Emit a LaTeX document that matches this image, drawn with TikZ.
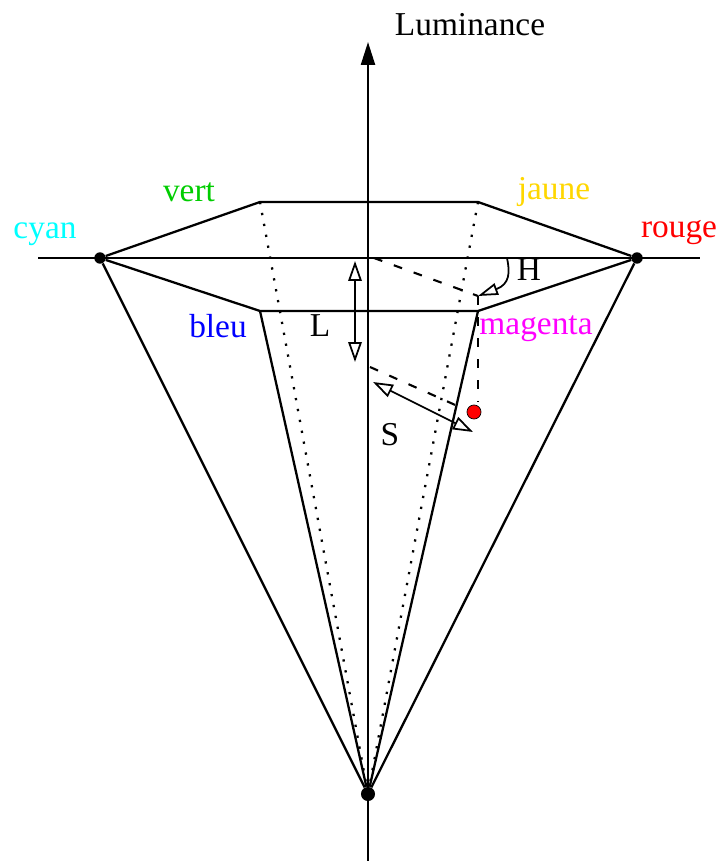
\documentclass[tikz,border=0pt]{standalone}
\usepackage{fontspec}
\setmainfont{Liberation Serif}
\usetikzlibrary{arrows.meta}

\definecolor{vertc}{RGB}{0,205,0}
\definecolor{jaunec}{RGB}{255,215,0}
\definecolor{cyanc}{RGB}{0,255,255}
\definecolor{magentac}{RGB}{255,0,255}
\definecolor{rougec}{RGB}{255,0,0}
\definecolor{bleuc}{RGB}{0,0,255}

\begin{document}
\begin{tikzpicture}[
  x=0.02cm, y=-0.02cm,
  font=\fontsize{19}{22}\selectfont,
  edge/.style={line width=1.3pt, draw=black},
  rear/.style={line width=1.3pt, draw=black, dash pattern=on 1.3pt off 5pt},
  hid/.style={line width=1.2pt, draw=black, dash pattern=on 5pt off 7pt},
  dbl/.style={line width=1pt, draw=black,
              {Triangle[open,length=4mm,width=2.7mm]}-{Triangle[open,length=4mm,width=2.7mm]}},
  vtx/.style={circle, fill=black, inner sep=0pt, minimum size=6.5pt},
  lbl/.style={inner sep=0pt},
]
\useasboundingbox (0,0) rectangle (720,861);

% ---------- axes ----------
\coordinate (top) at (368,42);
\coordinate (bot) at (368,861);
\coordinate (west) at (38,258);
\coordinate (east) at (700,258);

% ---------- hexagon and apex ----------
\node[vtx] (cy) at (100,258) {};
\node[vtx] (ro) at (637,258) {};
\node[vtx, minimum size=8pt] (apex) at (368,794) {};
\coordinate (ve) at (260,202);
\coordinate (ja) at (478,202);
\coordinate (bl) at (260,311);
\coordinate (ma) at (478,311);

% ---------- construction points ----------
\coordinate (orig) at (374,258);
\coordinate (foot) at (478,296);
\coordinate (hstart) at (507,258);
\coordinate (below) at (478,402);
\coordinate (axisp) at (370,367);
\coordinate (rimp) at (462,408);
\coordinate (stop) at (373,382);
\coordinate (send) at (473,432);
\coordinate (ltop) at (355,261);
\coordinate (lbot) at (355,362);
\node[circle, fill=red, draw=black, line width=0.4pt, inner sep=0pt, minimum size=8pt] (pt) at (474,412) {};

% ===== axes =====
\draw[edge, -{Triangle[length=4.6mm,width=2.8mm]}] (bot) -- (top);
\draw[edge] (west) -- (east);

% ===== hexagon =====
\draw[edge] (cy) -- (ve) -- (ja) -- (ro) -- (ma) -- (bl) -- (cy);

% ===== cone =====
\draw[edge] (cy) -- (apex);
\draw[edge] (ro) -- (apex);
\draw[edge] (bl) -- (apex);
\draw[edge] (ma) -- (apex);
\draw[rear] (ve) -- (apex);
\draw[rear] (ja) -- (apex);

% ===== construction lines =====
\draw[hid] (orig) -- (foot);
\draw[hid] (foot) -- (below);
\draw[hid] (axisp) -- (rimp);
\draw[line width=1pt, -{Triangle[open,length=4mm,width=2.4mm]}] (hstart) .. controls (510,272) and (510,284) .. (foot);
\draw[dbl] (ltop) -- (lbot);
\draw[dbl] (stop) -- (send);

% ===== labels =====
\node[lbl] (lum) at (470,25) {Luminance};
\node[lbl, text=vertc] (vert) at (189,192) {vert};
\node[lbl, text=jaunec] (jaune) at (554,192) {jaune};
\node[lbl, text=cyanc] (cyan) at (45,234) {cyan};
\node[lbl, text=rougec] (rouge) at (679,233) {rouge};
\node[lbl, text=bleuc] (bleu) at (218,326) {bleu};
\node[lbl, text=magentac] (magenta) at (536,329) {magenta};
\node[lbl] (lL) at (320,326) {L};
\node[lbl] (lH) at (529,270) {H};
\node[lbl] (lS) at (390,435) {S};

\end{tikzpicture}
\end{document}
